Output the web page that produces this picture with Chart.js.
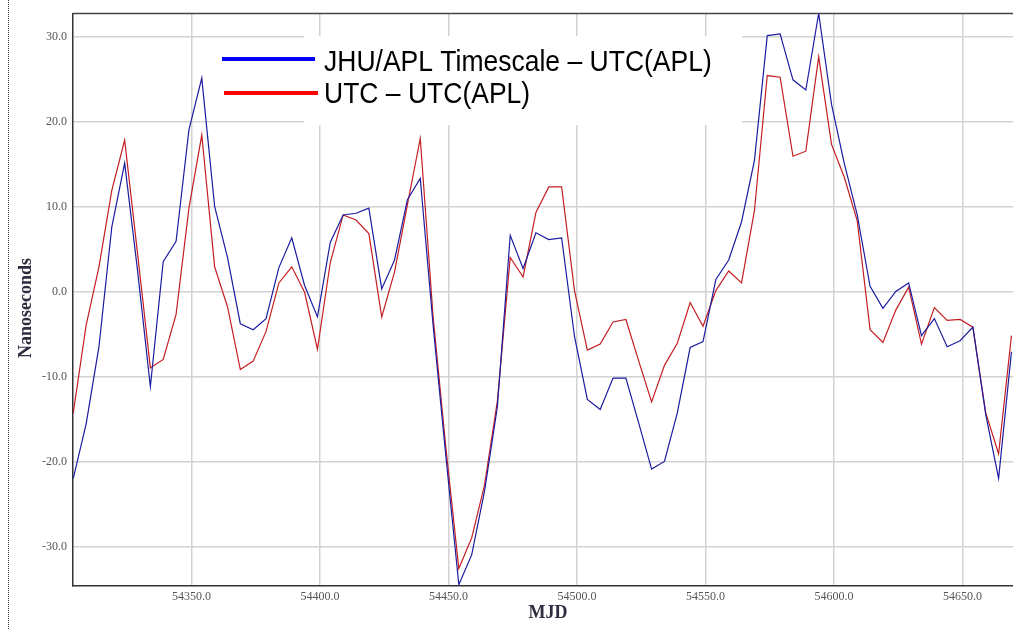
<!DOCTYPE html>
<html><head><meta charset="utf-8">
<script src="https://cdn.jsdelivr.net/npm/chart.js@4.4.1/dist/chart.umd.min.js"></script>
<style>html,body{margin:0;padding:0;background:#fff;overflow:hidden}#wrap{width:1013px;height:630px;position:relative}</style>
</head><body><div id="wrap"><canvas id="c" width="1013" height="630"></canvas></div>
<script>
const mjd = [
  54304, 54309, 54314, 54319, 54324, 54329, 54334, 54339, 54344, 54349,
  54354, 54359, 54364, 54369, 54374, 54379, 54384, 54389, 54394, 54399,
  54404, 54409, 54414, 54419, 54424, 54429, 54434, 54439, 54444, 54449,
  54454, 54459, 54464, 54469, 54474, 54479, 54484, 54489, 54494, 54499,
  54504, 54509, 54514, 54519, 54524, 54529, 54534, 54539, 54544, 54549,
  54554, 54559, 54564, 54569, 54574, 54579, 54584, 54589, 54594, 54599,
  54604, 54609, 54614, 54619, 54624, 54629, 54634, 54639, 54644, 54649,
  54654, 54659, 54664, 54669
];
const jhuAplMinusUtcApl = [
  -22.0, -15.6, -6.5, 7.6, 15.1, 2.5, -11.2, 3.5, 5.9, 19.0,
  25.1, 10.0, 4.0, -3.8, -4.5, -3.2, 2.8, 6.3, 0.7, -3.0,
  5.8, 9.0, 9.2, 9.8, 0.3, 3.7, 10.8, 13.3, -4.0, -19.5,
  -34.5, -31.0, -23.5, -13.6, 6.6, 2.7, 6.9, 6.1, 6.3, -5.3,
  -12.7, -13.9, -10.2, -10.2, -15.5, -20.9, -20.0, -14.3, -6.6, -5.9,
  1.4, 3.7, 8.2, 15.4, 30.1, 30.3, 24.9, 23.7, 32.7, 22.0,
  15.0, 9.0, 0.6, -2.0, 0.0, 1.0, -5.2, -3.2, -6.5, -5.8,
  -4.2, -14.5, -22.0, -7.1
];
const utcMinusUtcApl = [
  -14.3, -4.0, 2.9, 11.9, 17.8, 4.5, -9.0, -8.0, -2.7, 9.8,
  18.4, 2.9, -1.8, -9.2, -8.2, -4.7, 1.0, 2.9, -0.1, -6.8,
  3.4, 9.0, 8.4, 6.8, -3.0, 2.3, 10.2, 18.0, -3.0, -18.5,
  -32.6, -29.0, -22.8, -12.9, 4.0, 1.7, 9.3, 12.3, 12.3, 0.1,
  -6.9, -6.2, -3.6, -3.3, -8.2, -13.0, -8.7, -6.1, -1.3, -4.1,
  0.1, 2.4, 1.0, 9.5, 25.4, 25.2, 15.9, 16.5, 27.6, 17.3,
  13.4, 8.3, -4.5, -6.0, -2.2, 0.5, -6.2, -1.9, -3.4, -3.3,
  -4.2, -14.3, -19.1, -5.2
];
const seriesLabels = ['JHU/APL Timescale \u2013 UTC(APL)', 'UTC \u2013 UTC(APL)'];
const legendColors = ['#0000ff', '#ff0000'];
const xTitle = 'MJD';
const yTitle = 'Nanoseconds';

const toPts = (xs, ys) => xs.map((x, i) => ({x: x, y: ys[i]}));

const decor = {
  id: 'decor',
  beforeDatasetsDraw(chart) {
    const ctx = chart.ctx;
    ctx.save();
    ctx.fillStyle = '#ffffff';
    ctx.fillRect(304, 36, 438, 89);
    ctx.restore();
  },
  afterDraw(chart) {
    const ctx = chart.ctx;
    const a = chart.chartArea;
    ctx.save();
    // top frame line
    ctx.strokeStyle = '#444';
    ctx.lineWidth = 1.5;
    ctx.beginPath(); ctx.moveTo(a.left, a.top); ctx.lineTo(a.right, a.top); ctx.stroke();
    // dotted outer border
    ctx.strokeStyle = '#333';
    ctx.lineWidth = 1;
    ctx.setLineDash([1, 1]);
    ctx.beginPath(); ctx.moveTo(8.5, 0); ctx.lineTo(8.5, 630); ctx.stroke();
    ctx.setLineDash([]);
    // legend
    const rows = [{y: 59, x0: 222, x1: 315, base: 71}, {y: 93, x0: 224, x1: 318, base: 103}];
    rows.forEach((r, i) => {
      ctx.strokeStyle = legendColors[i];
      ctx.lineWidth = 4;
      ctx.beginPath(); ctx.moveTo(r.x0, r.y); ctx.lineTo(r.x1, r.y); ctx.stroke();
      ctx.save();
      ctx.translate(324, r.base);
      ctx.scale(1, 1.13);
      ctx.fillStyle = '#000';
      ctx.font = '26.5px "Liberation Sans", Arial, sans-serif';
      ctx.textBaseline = 'alphabetic';
      ctx.textAlign = 'left';
      ctx.fillText(chart.data.datasets[i].label, 0, 0);
      ctx.restore();
    });
    // axis titles
    ctx.fillStyle = '#2e2e40';
    ctx.font = 'bold 18px "Liberation Serif", "Times New Roman", serif';
    ctx.textAlign = 'center';
    ctx.textBaseline = 'middle';
    ctx.fillText(xTitle, 548, 613);
    ctx.save();
    ctx.translate(26, 308);
    ctx.rotate(-Math.PI / 2);
    ctx.fillText(yTitle, 0, 0);
    ctx.restore();
    ctx.restore();
  }
};

new Chart(document.getElementById('c'), {
  type: 'line',
  data: {
    datasets: [
      {label: seriesLabels[0], data: toPts(mjd, jhuAplMinusUtcApl), borderColor: '#1c1ca0', borderWidth: 1.2, pointRadius: 0, tension: 0, fill: false, order: 0},
      {label: seriesLabels[1], data: toPts(mjd, utcMinusUtcApl), borderColor: '#c41e22', borderWidth: 1.2, pointRadius: 0, tension: 0, fill: false, order: 1}
    ]
  },
  options: {
    responsive: false,
    animation: false,
    devicePixelRatio: 1,
    layout: {padding: {top: 13.5, left: 0, right: 0, bottom: 0}},
    plugins: {legend: {display: false}, tooltip: {enabled: false}, title: {display: false}},
    scales: {
      x: {
        type: 'linear',
        min: 54303.9,
        max: 54669.6,
        ticks: {stepSize: 50, includeBounds: false, padding: 4, color: '#555',
          font: {family: '"Liberation Serif", "Times New Roman", serif', size: 12},
          callback: v => Number(v).toFixed(1), maxRotation: 0, autoSkip: false},
        grid: {color: '#d2d2d2', lineWidth: 1.5, drawTicks: false},
        border: {color: '#333', width: 1.5},
        afterFit: s => { s.height = 44.5; }
      },
      y: {
        type: 'linear',
        min: -34.6,
        max: 32.7,
        ticks: {stepSize: 10, includeBounds: false, padding: 6, color: '#555',
          font: {family: '"Liberation Serif", "Times New Roman", serif', size: 12},
          callback: v => Number(v).toFixed(1)},
        grid: {color: '#d2d2d2', lineWidth: 1.5, drawTicks: false},
        border: {color: '#333', width: 1.5},
        afterFit: s => { s.width = 73; }
      }
    }
  },
  plugins: [decor]
});
</script>
</body></html>
